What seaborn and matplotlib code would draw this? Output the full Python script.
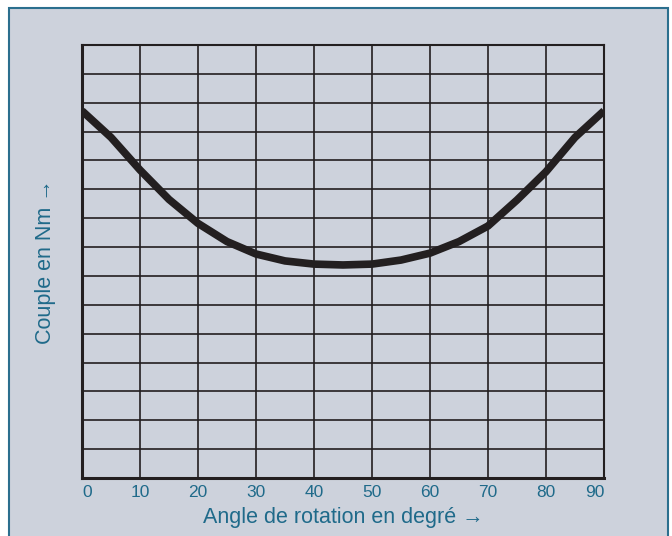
import matplotlib
matplotlib.use("Agg")
import matplotlib.pyplot as plt
from matplotlib.patches import Rectangle
import seaborn as sns
import pandas as pd

# Values (grid units, 15 horizontal divisions)
angle = [0, 5, 10, 15, 20, 25, 30, 35, 40, 45, 50, 55, 60, 65, 70, 75, 80, 85, 90]
couple = [12.72, 11.8, 10.67, 9.65, 8.82, 8.19, 7.76, 7.52, 7.41, 7.38, 7.41, 7.55, 7.79, 8.19, 8.73, 9.63, 10.61, 11.8, 12.72]
x_ticks = [0, 10, 20, 30, 40, 50, 60, 70, 80, 90]
x_label = "Angle de rotation en degré →"
y_label = "Couple en Nm →"

bg = "#cdd2dc"
text_col = "#1f6a8a"
ink = "#231f20"

sns.set_style("white")
plt.rcParams["font.family"] = ["Liberation Sans", "DejaVu Sans"]

fig = plt.figure(figsize=(6.72, 5.36), dpi=100)
fig.patch.set_facecolor("white")
# light panel with teal border
fig.patches.append(Rectangle((9 / 672, -0.02), (668 - 9) / 672, 1 - 8 / 536 + 0.02,
                             transform=fig.transFigure, facecolor=bg,
                             edgecolor="#2b6f8e", linewidth=1.5, zorder=-10))

ax = fig.add_axes([82 / 672, (536 - 478) / 536, (604 - 82) / 672, (478 - 45) / 536])
ax.set_zorder(5)
ax.set_facecolor(bg)

df = pd.DataFrame({"angle": angle, "couple": couple})
sns.lineplot(data=df, x="angle", y="couple", ax=ax, color=ink, linewidth=5.5,
             solid_capstyle="butt", solid_joinstyle="round", zorder=3)

ax.set_xlim(0, 90)
ax.set_ylim(0, 15)
ax.set_xticks(x_ticks)
ax.set_xticklabels([str(t) for t in x_ticks], color=text_col, fontsize=12.5)
# first and last labels sit inside the frame in the original
labels = ax.get_xticklabels()
labels[0].set_ha("left")
labels[-1].set_ha("right")
ax.set_yticks(range(0, 16))
ax.set_yticklabels([])
ax.tick_params(axis="both", length=0)
ax.tick_params(axis="x", pad=5)
ax.grid(True, color=ink, linewidth=1.2)

for side in ["left", "bottom"]:
    ax.spines[side].set_linewidth(2.2)
    ax.spines[side].set_color(ink)
for side in ["right", "top"]:
    ax.spines[side].set_linewidth(1.5)
    ax.spines[side].set_color(ink)

ax.set_xlabel(x_label, color=text_col, fontsize=15.5, labelpad=5)
ax.set_ylabel(y_label, color=text_col, fontsize=15.5, labelpad=15)

fig.savefig("out.png", dpi=100, facecolor="white")
